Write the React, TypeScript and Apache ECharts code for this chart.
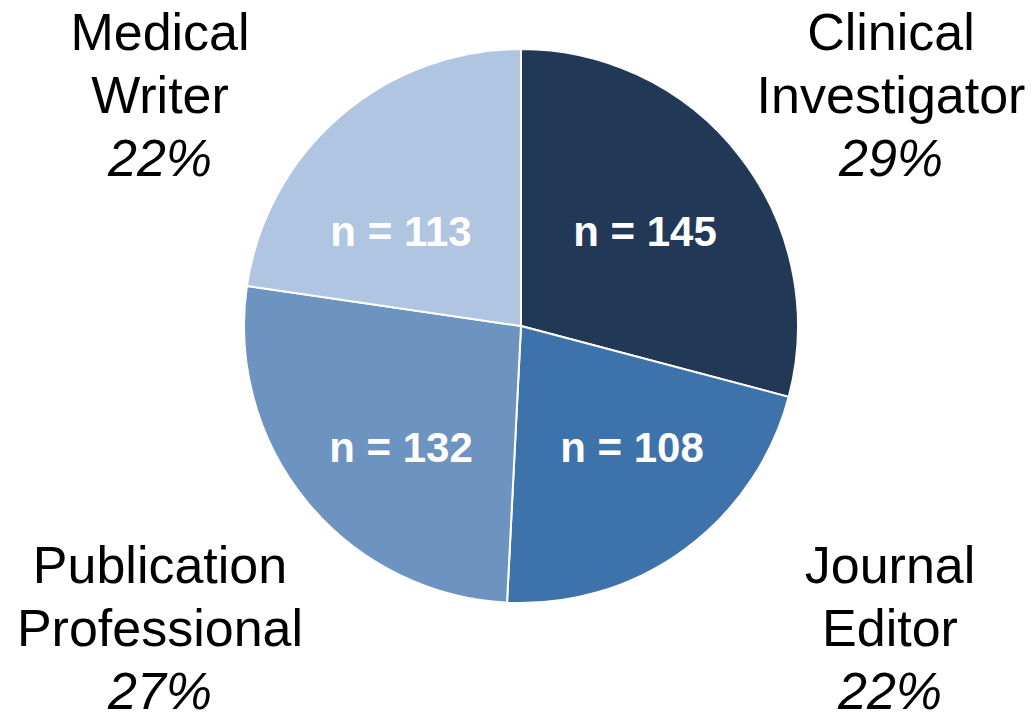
import React, { useEffect, useRef } from "react";
import * as echarts from "echarts";

const categories = ["Clinical\nInvestigator", "Journal\nEditor", "Publication\nProfessional", "Medical\nWriter"];
const counts = [145, 108, 132, 113];
const percents = [29, 22, 27, 22];
const colors = ["#223857", "#3E72AA", "#6D93C0", "#AFC5E1"];

// label anchor positions (centre of slice label, centre of corner label block)
const innerLabelPos = [
  [645, 231],
  [632, 447],
  [401, 447],
  [401, 231],
];
const cornerLabelPos = [
  [891, 95],
  [890, 628],
  [160, 628],
  [160, 95],
];

const FONT = "'Liberation Sans', Arial, Helvetica, sans-serif";

export default function App() {
  const ref = useRef<HTMLDivElement>(null);
  useEffect(() => {
    if (!ref.current) return;
    const chart = echarts.init(ref.current, undefined, { renderer: "svg" });
    const graphics = categories.map((c, i) => {
      const lines = c.split("\n").map((l) => `{n|${l}}`).join("\n");
      return {
        type: "text",
        x: cornerLabelPos[i][0],
        y: cornerLabelPos[i][1],
        style: {
          text: `${lines}\n{p|${percents[i]}%}`,
          align: "center",
          verticalAlign: "middle",
          fill: "#000",
          rich: {
            n: { fontSize: 52, fontFamily: FONT, lineHeight: 63, fill: "#000", color: "#000" },
            p: { fontSize: 52, fontFamily: FONT, fontStyle: "italic", lineHeight: 63, fill: "#000", color: "#000" },
          },
        },
      };
    });
    chart.setOption({
      animation: false,
      backgroundColor: "#ffffff",
      graphic: graphics,
      series: [
        {
          type: "pie",
          center: [521, 326],
          radius: 277,
          startAngle: 90,
          clockwise: true,
          silent: true,
          itemStyle: { borderColor: "#ffffff", borderWidth: 2 },
          label: {
            show: true,
            position: "inside",
            formatter: (p: any) => `n = ${p.value}`,
            color: "#ffffff",
            fontFamily: FONT,
            fontWeight: "bold",
            fontSize: 42,
          },
          labelLine: { show: false },
          labelLayout: (params: any) => ({
            x: innerLabelPos[params.dataIndex][0],
            y: innerLabelPos[params.dataIndex][1],
            align: "center",
            verticalAlign: "middle",
          }),
          data: categories.map((c, i) => ({
            name: c,
            value: counts[i],
            itemStyle: { color: colors[i] },
          })),
        },
      ],
    });
    return () => chart.dispose();
  }, []);
  return (
    <div
      ref={ref}
      style={{ position: "fixed", left: 0, top: 0, width: 1033, height: 714 }}
    />
  );
}
